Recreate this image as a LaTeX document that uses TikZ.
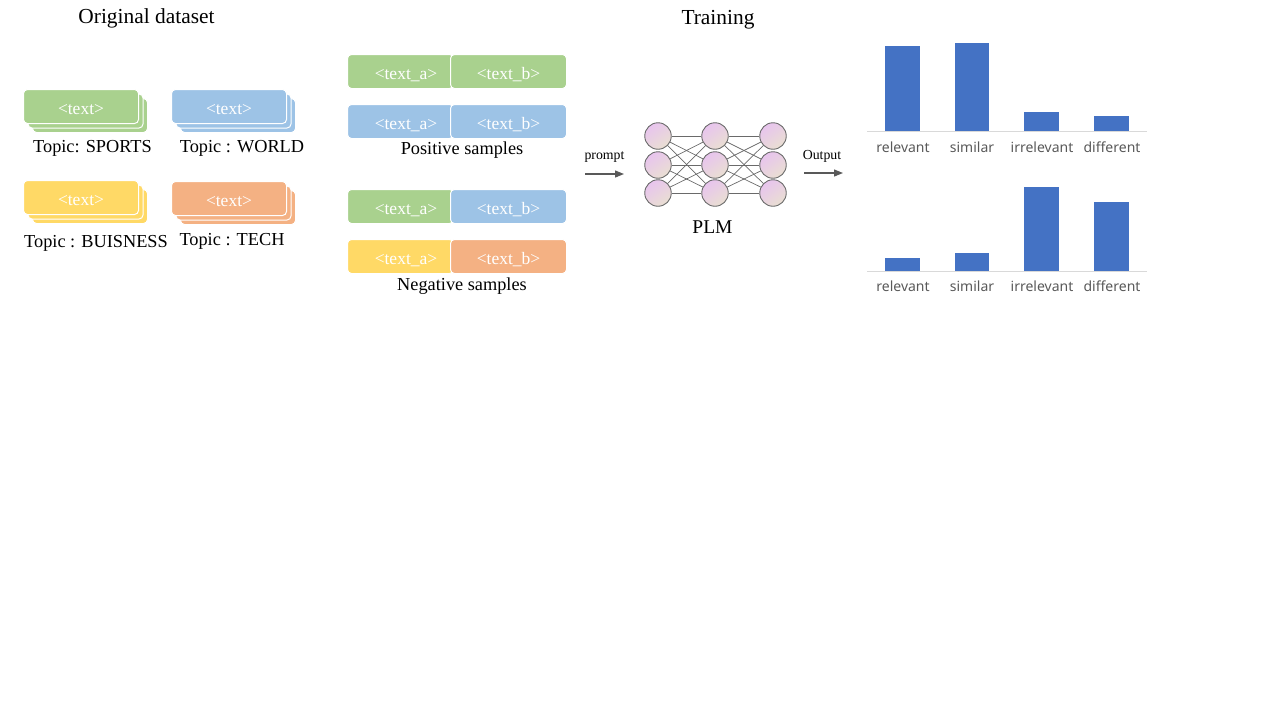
\documentclass[tikz,border=0pt]{standalone}
\usepackage{fontspec}
\setmainfont{Liberation Serif}
\newfontfamily\barfont{Noto Sans}
\usetikzlibrary{arrows.meta}
\definecolor{cgreen}{HTML}{A9D18E}
\definecolor{cblue}{HTML}{9DC3E6}
\definecolor{cyellow}{HTML}{FFD966}
\definecolor{corange}{HTML}{F4B183}
\definecolor{cbar}{HTML}{4472C4}
\definecolor{caxis}{HTML}{D9D9D9}
\definecolor{clabel}{HTML}{595959}
\definecolor{cnode}{HTML}{6A6A6A}
\definecolor{cpink}{HTML}{E8C4EE}
\definecolor{cbeige}{HTML}{E9DFD2}
\tikzset{
  card/.style={draw=white, line width=1pt, rounded corners=4pt, minimum width=115pt, minimum height=34pt, inner sep=0pt, text=white, font=\fontsize{17.5}{17.5}\selectfont, text height=15pt, text depth=0pt, anchor=north west},
  half/.style={draw=white, line width=1pt, rounded corners=4pt, minimum height=34pt, inner sep=0pt, text=white, font=\fontsize{17.5}{17.5}\selectfont, text height=15pt, text depth=0pt, anchor=north west},
  caption/.style={font=\fontsize{18.3}{18.3}\selectfont, inner sep=0pt},
  title/.style={font=\fontsize{21.4}{21.4}\selectfont, inner sep=0pt},
  plmfont/.style={font=\fontsize{19.5}{19.5}\selectfont, inner sep=0pt},
  small/.style={font=\fontsize{13.8}{13.8}\selectfont, inner sep=0pt},
  neuron/.style={circle, draw=cnode, line width=0.9pt, minimum size=26.5pt, inner sep=0pt, shading=axis, top color=cpink, bottom color=cbeige, shading angle=35},
  link/.style={draw=cnode, line width=0.7pt},
  flow/.style={draw=clabel, line width=1.2pt, -{Triangle[length=9pt,width=7pt]}},
  bar/.style={fill=cbar},
  axisline/.style={draw=caxis, line width=1pt},
  barlabel/.style={font=\barfont\fontsize{14}{14}\selectfont, text=clabel, inner sep=0pt},
}
\begin{document}
\begin{tikzpicture}[x=1pt,y=-1pt]
\useasboundingbox (0,0) rectangle (1271,715);
% titles
\node[title] (t1) at (146.5,18) {Original dataset};
\node[title] (t2) at (718,20) {Training};
% stacked cards
\foreach \nm/\x/\y/\c in {sp/23/89/cgreen, wo/171/89/cblue, bu/23/180/cyellow, te/171/181/corange}{
  \node[card, fill=\c] (\nm3) at (\x+9,\y+9) {};
  \node[card, fill=\c] (\nm2) at (\x+4.5,\y+4.5) {};
  \node[card, fill=\c] (\nm1) at (\x,\y) {<text>};
}
\node[caption] (lsp) at (92.5,148) {Topic: SPORTS};
\node[caption] (lwo) at (242,148) {Topic : WORLD};
\node[caption] (lbu) at (96,243) {Topic : BUISNESS};
\node[caption] (lte) at (232,241) {Topic : TECH};
% pairs
\foreach \nm/\y/\ca/\cb in {p1/54/cgreen/cgreen, p2/104/cblue/cblue, n1/189/cgreen/cblue, n2/239/cyellow/corange}{
  \node[half, fill=\ca, minimum width=106pt] (\nm a) at (347,\y) {\hspace*{11pt}<text\_a>};
  \node[half, fill=\cb, minimum width=116pt] (\nm b) at (450,\y) {<text\_b>};
}
\node[caption] (pos) at (462,150) {Positive samples};
\node[caption] (neg) at (462,286) {Negative samples};
% prompt arrow
\node[small] (lprompt) at (604.5,157) {prompt};
\coordinate (pa) at (585,174);
\coordinate (pb) at (624,174);
\draw[flow] (pa) -- (pb);
% network
\foreach \i/\x in {1/658,2/715,3/773}{
  \foreach \j/\y in {1/136,2/165,3/193}{
    \node[neuron] (n\i\j) at (\x,\y) {};
  }
}
\foreach \j in {1,2,3}{
  \foreach \k in {1,2,3}{
    \draw[link] (n1\j) -- (n2\k);
    \draw[link] (n2\j) -- (n3\k);
  }
}
\node[plmfont] (plm) at (712.5,227) {PLM};
% output arrow
\node[small] (lout) at (822,156) {Output};
\coordinate (oa) at (804,173);
\coordinate (ob) at (843,173);
\draw[flow] (oa) -- (ob);
% top chart
\fill[bar] (885,46) rectangle (920,131.5);
\fill[bar] (955,43) rectangle (989,131.5);
\fill[bar] (1024,112) rectangle (1059,131.5);
\fill[bar] (1094,116) rectangle (1129,131.5);
\coordinate (ax1a) at (867,131.7);
\coordinate (ax1b) at (1147,131.7);
\draw[axisline] (ax1a) -- (ax1b);
\node[barlabel] (r1) at (903,147) {relevant};
\node[barlabel] (s1) at (972,147) {similar};
\node[barlabel] (i1) at (1042,147) {irrelevant};
\node[barlabel] (d1) at (1112,147) {different};
% bottom chart
\fill[bar] (885,258) rectangle (920,271);
\fill[bar] (955,253) rectangle (989,271);
\fill[bar] (1024,187) rectangle (1059,271);
\fill[bar] (1094,202) rectangle (1129,271);
\coordinate (ax2a) at (867,271);
\coordinate (ax2b) at (1147,271);
\draw[axisline] (ax2a) -- (ax2b);
\node[barlabel] (r2) at (903,286) {relevant};
\node[barlabel] (s2) at (972,286) {similar};
\node[barlabel] (i2) at (1042,286) {irrelevant};
\node[barlabel] (d2) at (1112,286) {different};
\end{tikzpicture}
\end{document}
